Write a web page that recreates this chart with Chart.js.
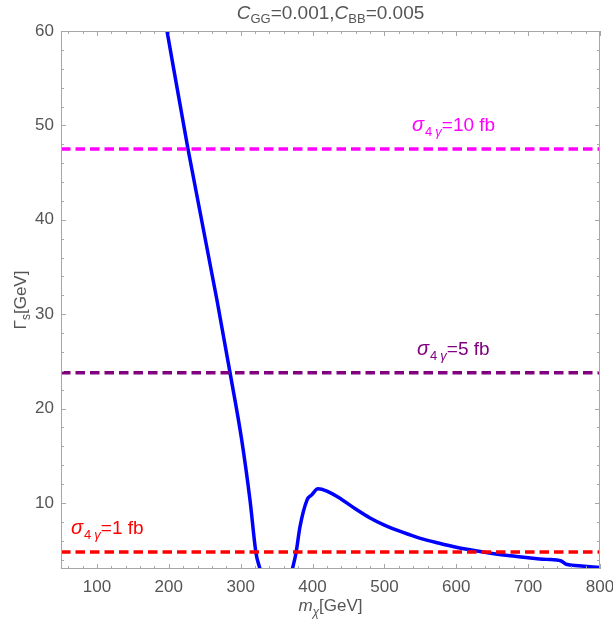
<!DOCTYPE html>
<html>
<head>
<meta charset="utf-8">
<script src="https://cdn.jsdelivr.net/npm/chart.js@4.4.1/dist/chart.umd.min.js"></script>
<style>
  body { margin: 0; background: #fff; }
</style>
</head>
<body>
<canvas id="chart" width="613" height="630"></canvas>
<script>
// blue contour, left branch (m_chi in GeV, Gamma_s in GeV)
const leftX = [197.5, 226.7, 267, 285.2, 301.4, 313, 321.3, 326.9];
const leftY = [60, 47.5, 31.5, 23.8, 16.7, 10.3, 4.7, 3];
// right branch
const rightX = [372, 377, 382.6, 392.3, 398.8, 407.6, 420, 440, 460, 480, 500, 525, 550, 575, 600, 625, 650, 675, 700, 725, 746, 753, 770, 800];
const rightY = [3, 4.7, 7.5, 10.3, 10.85, 11.5, 11.25, 10.4, 9.35, 8.4, 7.65, 6.9, 6.25, 5.75, 5.3, 4.95, 4.65, 4.4, 4.2, 4.02, 3.85, 3.5, 3.35, 3.15];

// sigma_4gamma reference levels
const sigmaVals = ['10', '5', '1'];
const sigmaLevels = [47.5, 23.8, 4.8];
const sigmaColors = ['#ff00ff', '#800080', '#ff0000'];

const xTicks = [100, 200, 300, 400, 500, 600, 700, 800];
const yTicks = [10, 20, 30, 40, 50, 60];

const xMin = 50, xMax = 800, yMin = 3, yMax = 60;
const FONT = '"Liberation Sans", Arial, sans-serif';
const GREY = '#555';

function pts(xs, ys) {
  return xs.map((v, i) => ({ x: v, y: ys[i] }));
}

const datasets = [];
sigmaLevels.forEach((lv, i) => {
  datasets.push({
    data: [{ x: xMin, y: lv }, { x: xMax, y: lv }],
    borderColor: sigmaColors[i],
    borderWidth: 3.5,
    borderDash: [9.5, 5],
    pointRadius: 0
  });
});
[pts(leftX, leftY), pts(rightX, rightY)].forEach(d => {
  datasets.push({
    data: d,
    borderColor: '#0000ff',
    borderWidth: 3.5,
    pointRadius: 0,
    cubicInterpolationMode: 'monotone'
  });
});

// draw a run of text pieces (for sub-scripts); align center or left
function richText(ctx, parts, x, y, align) {
  let w = 0;
  parts.forEach(p => { ctx.font = p.f; w += ctx.measureText(p.t).width + (p.gap || 0); });
  let cx = align === 'center' ? x - w / 2 : x;
  parts.forEach(p => {
    ctx.font = p.f;
    ctx.fillText(p.t, cx, y + (p.dy || 0));
    cx += ctx.measureText(p.t).width + (p.gap || 0);
  });
}

const frame = {
  id: 'frame',
  afterDraw(chart) {
    const { ctx, chartArea: a, scales: { x, y } } = chart;
    ctx.save();
    ctx.strokeStyle = '#a6a6a6';
    ctx.lineWidth = 1;
    ctx.strokeRect(a.left + 0.5, a.top + 0.5, a.right - a.left - 1, a.bottom - a.top - 1);

    // frame ticks, inside, on all four sides
    ctx.beginPath();
    for (let v = 60; v <= xMax; v += 20) {
      const len = v % 100 === 0 ? 5 : 3;
      const px = Math.round(x.getPixelForValue(v)) + 0.5;
      ctx.moveTo(px, a.bottom); ctx.lineTo(px, a.bottom - len);
      ctx.moveTo(px, a.top); ctx.lineTo(px, a.top + len);
    }
    for (let v = 4; v <= yMax; v += 2) {
      const len = v % 10 === 0 ? 5 : 3;
      const py = Math.round(y.getPixelForValue(v)) + 0.5;
      ctx.moveTo(a.left, py); ctx.lineTo(a.left + len, py);
      ctx.moveTo(a.right, py); ctx.lineTo(a.right - len, py);
    }
    ctx.stroke();

    ctx.textBaseline = 'alphabetic';
    // title
    ctx.fillStyle = GREY;
    const big = '19px ' + FONT, bigI = 'italic 19px ' + FONT, sub = '13px ' + FONT;
    richText(ctx, [
      { t: 'C', f: bigI }, { t: 'GG', f: sub, dy: 4 }, { t: '=0.001,', f: big },
      { t: 'C', f: bigI }, { t: 'BB', f: sub, dy: 4 }, { t: '=0.005', f: big }
    ], (a.left + a.right) / 2, 19, 'center');

    // x axis title
    const ax = '17px ' + FONT, axI = 'italic 17px ' + FONT, axS = 'italic 12px ' + FONT;
    richText(ctx, [
      { t: 'm', f: axI }, { t: 'χ', f: axS, dy: 5 }, { t: '[GeV]', f: ax }
    ], (a.left + a.right) / 2, 611, 'center');

    // y axis title
    ctx.save();
    ctx.translate(26, (a.top + a.bottom) / 2);
    ctx.rotate(-Math.PI / 2);
    richText(ctx, [
      { t: 'Γ', f: ax }, { t: 's', f: '12px ' + FONT, dy: 4 }, { t: '[GeV]', f: ax }
    ], 0, 0, 'center');
    ctx.restore();

    // sigma labels
    const labX = [412, 417, 71];
    sigmaVals.forEach((s, i) => {
      ctx.fillStyle = sigmaColors[i];
      richText(ctx, [
        { t: 'σ', f: 'italic 20px ' + FONT, gap: 1 },
        { t: '4', f: '13px ' + FONT, dy: 5, gap: 3 },
        { t: 'γ', f: 'italic 13px ' + FONT, dy: 5 },
        { t: '=' + s + ' fb', f: '19px ' + FONT }
      ], labX[i], y.getPixelForValue(sigmaLevels[i]) - 18, 'left');
    });
    ctx.restore();
  }
};

new Chart(document.getElementById('chart'), {
  type: 'scatter',
  data: { datasets },
  options: {
    responsive: false,
    animation: false,
    devicePixelRatio: 1,
    showLine: true,
    layout: { padding: { top: 31, right: 13, left: 0, bottom: 0 } },
    plugins: { legend: { display: false }, tooltip: { enabled: false } },
    scales: {
      x: {
        type: 'linear', min: xMin, max: xMax,
        afterBuildTicks: s => { s.ticks = xTicks.map(v => ({ value: v })); },
        afterFit: s => { s.height = 61; s.paddingLeft = 0; s.paddingRight = 0; },
        grid: { display: false, drawTicks: false },
        border: { display: false },
        ticks: { color: GREY, padding: 8, maxRotation: 0, font: { family: FONT, size: 17 } }
      },
      y: {
        type: 'linear', min: yMin, max: yMax,
        afterBuildTicks: s => { s.ticks = yTicks.map(v => ({ value: v })); },
        afterFit: s => { s.width = 61; s.paddingTop = 0; s.paddingBottom = 0; },
        grid: { display: false, drawTicks: false },
        border: { display: false },
        ticks: { color: GREY, padding: 7, font: { family: FONT, size: 17 } }
      }
    }
  },
  plugins: [frame]
});
</script>
</body>
</html>
